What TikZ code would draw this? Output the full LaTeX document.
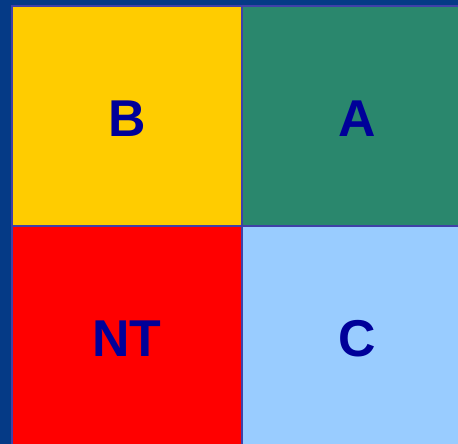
\documentclass[tikz,border=0pt]{standalone}
\usepackage{fontspec}
\setmainfont{Liberation Sans}
\definecolor{bgblue}{HTML}{053A86}
\definecolor{edgeblue}{HTML}{4040A8}
\definecolor{txtblue}{HTML}{000099}
\definecolor{cyellow}{HTML}{FFCC00}
\definecolor{cgreen}{HTML}{2A876D}
\definecolor{cred}{HTML}{FF0000}
\definecolor{clblue}{HTML}{99CCFF}
\begin{document}
\begin{tikzpicture}[x=1bp,y=-1bp,
  cell/.style={draw=edgeblue,line width=1.5bp,minimum width=230bp,minimum height=220bp,inner sep=0pt,outer sep=0pt},
  lbl/.style={font=\fontsize{52}{60}\selectfont\bfseries,text=txtblue,inner sep=0pt}]
\useasboundingbox (0,0) rectangle (458,444);
\fill[bgblue] (0,0) rectangle (458,444);
\begin{scope}
\clip (0,0) rectangle (458,444);
\node[cell,fill=cyellow] (b) at (127,116) {};
\node[cell,fill=cgreen] (a) at (357,116) {};
\node[cell,fill=cred] (nt) at (127,336) {};
\node[cell,fill=clblue] (c) at (357,336) {};
\end{scope}
\node[lbl] (bl) at ([yshift=-3bp]b.center) {B};
\node[lbl] (al) at ([yshift=-3bp]a.center) {A};
\node[lbl] (ntl) at ([yshift=-3bp]nt.center) {NT};
\node[lbl] (cl) at ([yshift=-3bp]c.center) {C};
\end{tikzpicture}
\end{document}
